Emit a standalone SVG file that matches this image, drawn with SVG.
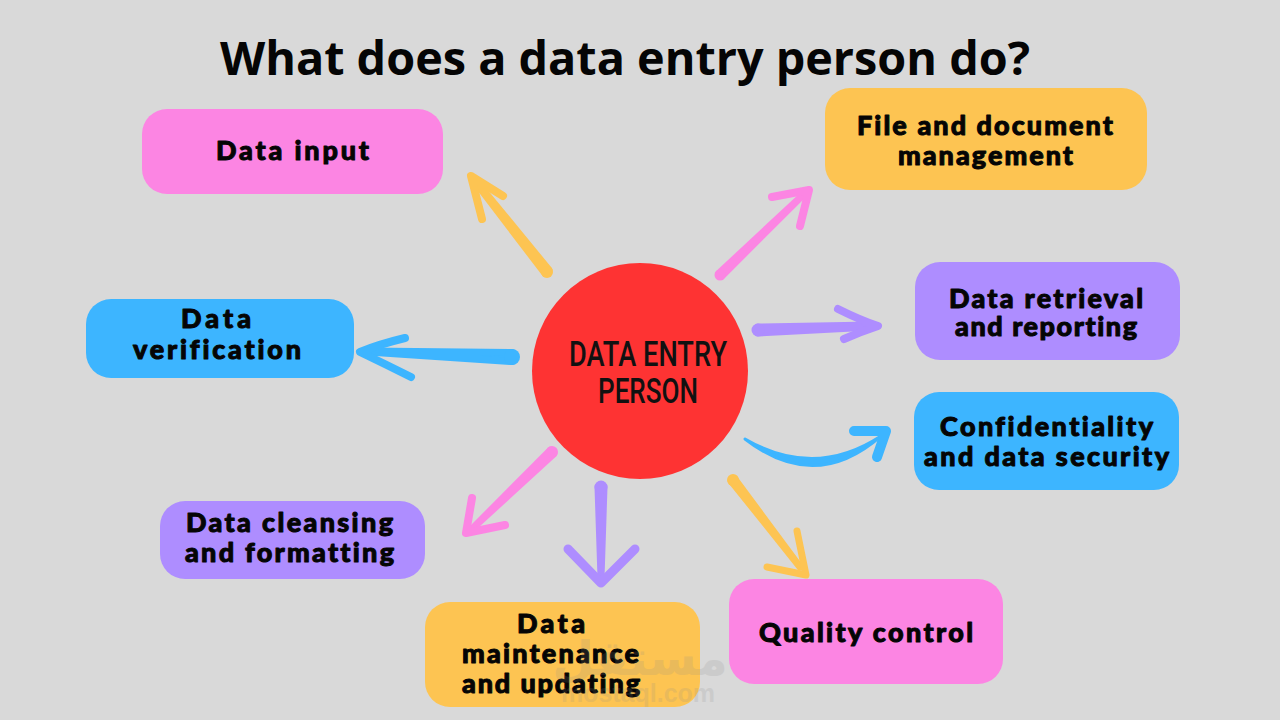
<svg xmlns="http://www.w3.org/2000/svg" width="1280" height="720" viewBox="0 0 1280 720">
<style>
.t{font-family:"Lato","Noto Sans",sans-serif;font-weight:900;font-size:27px;fill:#050505;text-anchor:middle;stroke:#050505;stroke-width:1;stroke-linejoin:round;font-variant-ligatures:none}
.c{font-family:"Roboto","Liberation Sans",sans-serif;font-weight:500;font-size:35px;fill:#111;text-anchor:middle}
.title{font-family:"Open Sans","Liberation Sans",sans-serif;font-weight:700;font-size:47px;fill:#050505;text-anchor:middle}
.a{fill:none;stroke-linecap:round;stroke-linejoin:round}
.s{stroke-width:7;stroke-linejoin:round}
.pink{fill:#fc85e3}.orange{fill:#fdc452}.blue{fill:#3db5ff}.purple{fill:#ae8dff}
.wm{fill:#8a8a8a;opacity:.17;text-anchor:middle}
</style>
<rect width="1280" height="720" fill="#d9d9d9"/>
<text class="title" x="625" y="75" textLength="810" lengthAdjust="spacingAndGlyphs">What does a data entry person do?</text>
<g id="connectors">
<g stroke="#fdc452"><path class="orange s" d="M549 270L545 273.5L475.6 182.3L476.4 181.7Z"/><circle class="orange" stroke="none" cx="547" cy="272" r="6"/><path class="a" d="M482 219L471 176L503 196" stroke-width="8"/></g>
<g stroke="#fc85e3"><path class="pink s" d="M721.4 276.4L718.6 273.6L804 194Z"/><circle class="pink" stroke="none" cx="720" cy="275" r="5.5"/><path class="a" d="M772 197L809 190L800 226" stroke-width="8"/></g>
<g stroke="#ae8dff"><path class="purple s" d="M758 333L758 327L872 325L872 327Z"/><circle class="purple" stroke="none" cx="758" cy="330" r="6.5"/><path class="a" d="M838 309Q860 320 878 326Q860 332 844 339" stroke-width="8"/></g>
<g stroke="#3db5ff"><path class="blue" stroke-width="3" stroke-linejoin="round" d="M745 439Q815 493.5 881 436Q815 479.5 745 439Z"/><path class="a" d="M854 431L886 431L877 457" stroke-width="10"/></g>
<g stroke="#fdc452"><path class="orange s" d="M734.6 478.8L731.4 481.2L800 567Z"/><circle class="orange" stroke="none" cx="733" cy="480" r="6"/><path class="a" d="M767 567L806 575L797 531" stroke-width="7"/></g>
<g stroke="#ae8dff"><path class="purple s" d="M604 487L598 487L601 578Z"/><circle class="purple" stroke="none" cx="601" cy="487" r="6.5"/><path class="a" d="M568 549L601 583L635 549" stroke-width="9"/></g>
<g stroke="#fc85e3"><path class="pink s" d="M553.7 453.8L550.3 450.2L474 527Z"/><circle class="pink" stroke="none" cx="552" cy="452" r="6"/><path class="a" d="M472 498L466 533L505 525" stroke-width="8"/></g>
<g stroke="#3db5ff"><path class="blue s" d="M512 361.5L512 352.5L368 351L368 352Z"/><circle class="blue" stroke="none" cx="512" cy="357" r="8"/><path class="a" d="M405 338Q380 344 360 352Q385 364 411 377" stroke-width="8"/></g>
</g>
<g id="center"><circle cx="640" cy="371" r="108" fill="#fe3333"/>
<text class="c" x="648" y="366" textLength="158" lengthAdjust="spacingAndGlyphs">DATA ENTRY</text>
<text class="c" x="648" y="403" textLength="100" lengthAdjust="spacingAndGlyphs">PERSON</text></g>
<g id="n-input"><rect class="pink" x="142" y="109" width="301" height="85" rx="25"/><text class="t" x="292.5" y="160" textLength="153">Data input</text></g>
<g id="n-file"><rect class="orange" x="825" y="88" width="322" height="102" rx="25"/><text class="t" x="985" y="135" textLength="256">File and document</text><text class="t" x="985.5" y="165" textLength="175">management</text></g>
<g id="n-retrieval"><rect class="purple" x="915" y="262" width="265" height="98" rx="25"/><text class="t" x="1046" y="308" textLength="194">Data retrieval</text><text class="t" x="1046" y="336" textLength="182">and reporting</text></g>
<g id="n-conf"><rect class="blue" x="914" y="392" width="265" height="98" rx="25"/><text class="t" x="1046.5" y="436" textLength="213">Confidentiality</text><text class="t" x="1046.5" y="466" textLength="245">and data security</text></g>
<g id="n-quality"><rect class="pink" x="729" y="579" width="274" height="105" rx="25"/><text class="t" x="866" y="642" textLength="214">Quality control</text></g>
<g id="n-maint"><rect class="orange" x="425" y="602" width="275" height="105" rx="25"/><text class="t" x="551" y="633" textLength="68">Data</text><text class="t" x="550.5" y="663" textLength="177">maintenance</text><text class="t" x="551" y="693" textLength="178">and updating</text></g>
<g id="n-cleansing"><rect class="purple" x="160" y="501" width="265" height="78" rx="25"/><text class="t" x="289.5" y="532" textLength="207">Data cleansing</text><text class="t" x="289.5" y="562" textLength="209">and formatting</text></g>
<g id="n-verif"><rect class="blue" x="86" y="299" width="268" height="79" rx="25"/><text class="t" x="216" y="328" textLength="70">Data</text><text class="t" x="217" y="359" textLength="168">verification</text></g>
<g id="watermark"><text class="wm" x="640" y="675" font-family="'DejaVu Sans',sans-serif" font-size="48" font-weight="700">مستقل</text><text class="wm" x="638" y="702" font-family="'Liberation Sans',sans-serif" font-size="25" font-weight="700">mostaql.com</text></g>
</svg>
